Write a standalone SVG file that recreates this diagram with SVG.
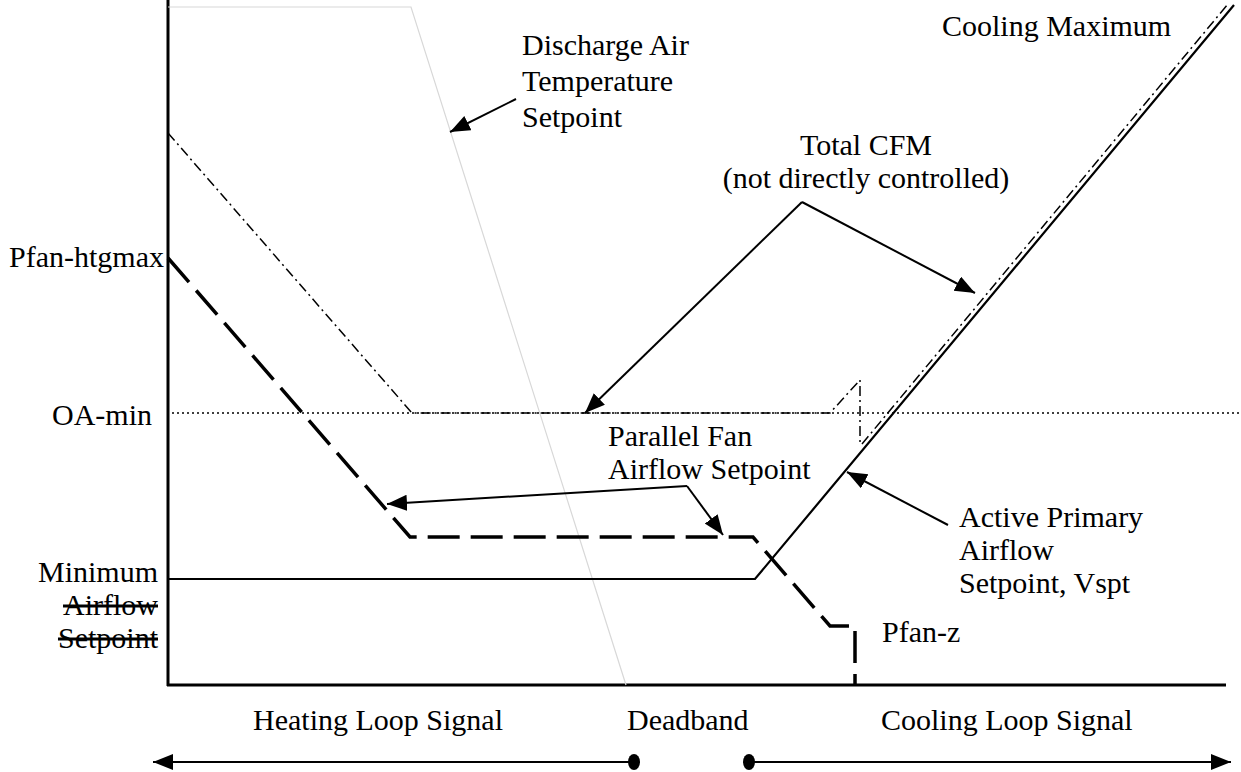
<svg xmlns="http://www.w3.org/2000/svg" width="1241" height="772" viewBox="0 0 1241 772">
<style>
.ax{stroke:#000;stroke-width:3;fill:none}
.dd{stroke:#000;stroke-width:1.5;fill:none;stroke-dasharray:10 4 2 4}
.dot{stroke:#000;stroke-width:1.5;fill:none;stroke-dasharray:2 3}
.pf{stroke:#000;stroke-width:3.5;fill:none;stroke-dasharray:32 11}
.dat{stroke:#d8d8d8;stroke-width:1.2;fill:none}
.solid{stroke:#000;stroke-width:2.2;fill:none}
.arr{stroke:#000;stroke-width:2;fill:none;marker-end:url(#ah)}
.st{text-decoration:line-through}
</style>
<defs>
<marker id="ah" markerUnits="userSpaceOnUse" markerWidth="22" markerHeight="18" refX="20" refY="8" orient="auto">
<path d="M0,0 L20,8 L0,16 Z" fill="#000"/>
</marker>
</defs>
<rect width="1241" height="772" fill="#fff"/>
<g id="axes">
<path class="ax" d="M168,0 L168,686"/>
<path class="ax" d="M167,685 L1226,685"/>
</g>
<g id="curves">
<path id="dat-line" class="dat" d="M168,7 L411,7 L626,685"/>
<path id="oa-min-line" class="dot" d="M172,413 L1241,413"/>
<path id="total-cfm" class="dd" d="M168,133 L412,413 L830,413 L860,380 L860,444"/>
<path id="total-cfm-2" class="dd" d="M862,444 L1228,4"/>
<path id="vspt" class="solid" d="M168,579 L755,579 L1234,5"/>
<path id="pfan" class="pf" d="M168,258 L410,537 L753,537 L830,626 L855,626 L855,685"/>
</g>
<g id="connectors">
<path class="arr" d="M516,99 L450,132"/>
<path class="arr" d="M802,202 L585,413"/>
<path class="arr" d="M802,202 L975,293"/>
<path class="arr" d="M687,486 L387,504"/>
<path class="arr" d="M687,486 L723,535"/>
<path class="arr" d="M948,525 L847,472"/>
<path class="arr" d="M634,762 L153,762"/>
<path class="arr" d="M749,762 L1231,762"/>
<ellipse cx="634" cy="762" rx="6" ry="8" fill="#000"/>
<ellipse cx="749" cy="762" rx="6" ry="8" fill="#000"/>
</g>
<g font-family="Liberation Serif, Tinos, Times New Roman, DejaVu Serif, serif" font-size="30" fill="#000">
<g id="label-dat"><text x="522" y="55">Discharge Air</text><text x="522" y="91">Temperature</text><text x="522" y="127">Setpoint</text></g>
<g id="label-coolmax"><text x="942" y="36">Cooling Maximum</text></g>
<g id="label-totalcfm"><text x="866" y="155" text-anchor="middle">Total CFM</text><text x="866" y="188" text-anchor="middle">(not directly controlled)</text></g>
<g id="label-pfanhtg"><text x="9" y="267">Pfan-htgmax</text></g>
<g id="label-oamin"><text x="52" y="425">OA-min</text></g>
<g id="label-parfan"><text x="608" y="446">Parallel Fan</text><text x="608" y="479">Airflow Setpoint</text></g>
<g id="label-minimum"><text x="158" y="582" text-anchor="end">Minimum</text><text x="158" y="615" text-anchor="end" class="st">Airflow</text><text x="158" y="648" text-anchor="end" class="st">Setpoint</text></g>
<g id="label-vspt"><text x="959" y="527">Active Primary</text><text x="959" y="560">Airflow</text><text x="959" y="593">Setpoint, Vspt</text></g>
<g id="label-pfanz"><text x="882" y="642">Pfan-z</text></g>
<g id="label-heating"><text x="253" y="730">Heating Loop Signal</text></g>
<g id="label-deadband"><text x="627" y="730">Deadband</text></g>
<g id="label-cooling"><text x="881" y="730">Cooling Loop Signal</text></g>
</g>
</svg>
